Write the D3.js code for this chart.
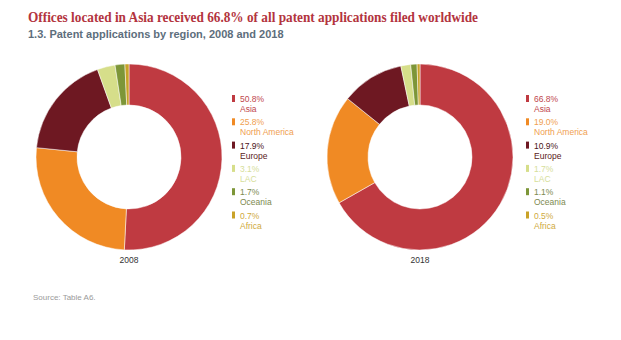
<!DOCTYPE html>
<html><head><meta charset="utf-8">
<script src="https://cdn.jsdelivr.net/npm/d3@7"></script>
<style>body{margin:0;background:#fff}</style>
</head><body>
<script>
const regions = ["Asia","North America","Europe","LAC","Oceania","Africa"];
const values2008 = [50.8,25.8,17.9,3.1,1.7,0.7];
const values2018 = [66.8,19.0,10.9,1.7,1.1,0.5];
const years = ["2008","2018"];
const colors = ["#bf3a41","#f08a24","#6e1822","#d6de8a","#7d9638","#c9a228"];
const textColors = ["#c0474d","#f0a050","#5a1a22","#d6de9a","#7d8a50","#d0aa40"];

const W=621,H=340;
const svg=d3.select("body").append("svg").attr("width",W).attr("height",H);

svg.append("text").attr("x",28).attr("y",22)
 .attr("font-family","Liberation Serif, serif").attr("font-weight","bold")
 .attr("font-size",15).attr("fill","#b3343e")
 .attr("textLength",450).attr("lengthAdjust","spacingAndGlyphs")
 .text("Offices located in Asia received 66.8% of all patent applications filed worldwide");
svg.append("text").attr("x",28).attr("y",38)
 .attr("font-family","Liberation Sans, Arial, sans-serif").attr("font-weight","bold")
 .attr("font-size",11).attr("fill","#5d6e7c")
 .text("1.3. Patent applications by region, 2008 and 2018");
svg.append("text").attr("x",33).attr("y",300)
 .attr("font-family","Liberation Sans, Arial, sans-serif")
 .attr("font-size",8).attr("fill","#9a9a9a").text("Source: Table A6.");

const pie=d3.pie().sort(null).value(d=>d);
const arc=d3.arc().innerRadius(52).outerRadius(93);
const panels=[{vals:values2008,cx:129,lx:232},{vals:values2018,cx:420,lx:526}];
const cy=157;
const color=d3.scaleOrdinal().domain(regions).range(colors);
const tcolor=d3.scaleOrdinal().domain(regions).range(textColors);

panels.forEach((p,i)=>{
  const g=svg.append("g").attr("transform",`translate(${p.cx},${cy})`);
  g.selectAll("path").data(pie(p.vals)).join("path")
   .attr("d",arc).attr("fill",(d,j)=>color(regions[j]))
   .attr("stroke","#fff").attr("stroke-width",0.5);
  svg.append("text").attr("x",p.cx).attr("y",263).attr("text-anchor","middle")
   .attr("font-family","Liberation Sans, Arial, sans-serif").attr("font-size",8.5)
   .attr("fill","#333").text(years[i]);
  const lg=svg.append("g").attr("transform",`translate(${p.lx},0)`);
  regions.forEach((r,j)=>{
    const y=99+j*23.3;
    lg.append("rect").attr("x",0).attr("y",y-4).attr("width",3).attr("height",7).attr("fill",color(r));
    lg.append("text").attr("x",8).attr("y",y+3)
     .attr("font-family","Liberation Sans, Arial, sans-serif").attr("font-size",8.5)
     .attr("fill",j===2?"#4a1520":tcolor(r)).text(p.vals[j].toFixed(1)+"%");
    lg.append("text").attr("x",8).attr("y",y+13)
     .attr("font-family","Liberation Sans, Arial, sans-serif").attr("font-size",8.5)
     .attr("fill",tcolor(r)).text(r);
  });
});
</script>
</body></html>
